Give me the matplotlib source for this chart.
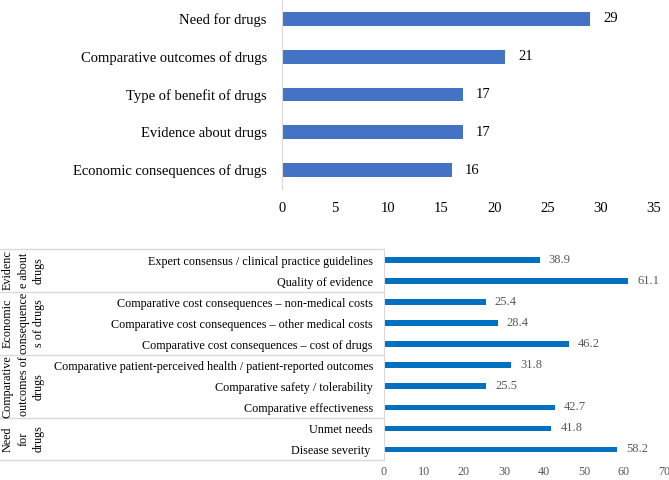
import matplotlib
matplotlib.use("Agg")
import matplotlib.pyplot as plt
from matplotlib.transforms import blended_transform_factory

# top chart: number of items per domain
domains = [
    "Need for drugs",
    "Comparative outcomes of drugs",
    "Type of benefit of drugs",
    "Evidence about drugs",
    "Economic consequences of drugs",
]
domain_counts = [29, 21, 17, 17, 16]

# bottom chart: criteria with percentages
criteria = [
    "Expert consensus / clinical practice guidelines",
    "Quality of evidence",
    "Comparative cost consequences \u2013 non-medical costs",
    "Comparative cost consequences \u2013 other medical costs",
    "Comparative cost consequences \u2013 cost of drugs",
    "Comparative patient-perceived health / patient-reported outcomes",
    "Comparative safety / tolerability",
    "Comparative effectiveness",
    "Unmet needs",
    "Disease severity ",
]
criteria_values = [38.9, 61.1, 25.4, 28.4, 46.2, 31.8, 25.5, 42.7, 41.8, 58.2]
groups = [
    (["Evidenc", "e about", "drugs"], 2),
    (["Economic", "consequence", "s of drugs"], 3),
    (["Comparative", "outcomes of", "drugs"], 3),
    (["Need", "for", "drugs"], 2),
]

plt.rcParams["font.family"] = ["Liberation Serif", "DejaVu Serif"]

fig = plt.figure(figsize=(6.69, 4.8), dpi=100)

# ---- top chart
ax1 = fig.add_axes([282 / 669, 1 - 189 / 480, (654 - 282) / 669, 189 / 480])
y1 = list(range(len(domains)))
ax1.barh(y1, domain_counts, height=0.36, color="#4472C4")
ax1.set_ylim(4.5, -0.5)
ax1.set_xlim(0, 35)
ax1.set_xticks(range(0, 36, 5))
ax1.set_yticks(y1)
ax1.set_yticklabels(domains, fontsize=10.5)
ax1.tick_params(axis="both", length=0, labelsize=10.5)
ax1.tick_params(axis="y", pad=11)
ax1.tick_params(axis="x", pad=9)
for s in ["top", "right", "bottom"]:
    ax1.spines[s].set_visible(False)
ax1.spines["left"].set_color("#d9d9d9")
for y, v in zip(y1, domain_counts):
    ax1.text(v + 1.2, y, str(v), va="center", ha="left", fontsize=10.5)

# ---- bottom chart
top2, bot2 = 249.5, 460
ax2 = fig.add_axes([384 / 669, 1 - bot2 / 480, (664 - 384) / 669, (bot2 - top2) / 480])
y2 = list(range(len(criteria)))
ax2.barh(y2, criteria_values, height=0.27, color="#0070C0")
ax2.set_ylim(9.5, -0.5)
ax2.set_xlim(0, 70)
ax2.set_xticks(range(0, 71, 10))
ax2.set_yticks(y2)
ax2.set_yticklabels(criteria, fontsize=8.75)
ax2.tick_params(axis="both", length=0)
ax2.tick_params(axis="x", labelsize=8.75, labelcolor="#595959", pad=4)
ax2.tick_params(axis="y", pad=8)
for s in ["top", "right", "bottom"]:
    ax2.spines[s].set_visible(False)
ax2.spines["left"].set_color("#d9d9d9")
for y, v in zip(y2, criteria_values):
    ax2.text(v + 2.3, y, f"{v:.1f}", va="center", ha="left", fontsize=9, color="#595959")

# group separators and labels
tr = blended_transform_factory(fig.transFigure, ax2.transData)
cols = [8 / 669, 24 / 669, 39 / 669]
start = -0.5
ax2.plot([0, 384 / 669], [start, start], transform=tr, color="#d9d9d9", lw=1, clip_on=False)
for lines, n in groups:
    end = start + n
    ax2.plot([0, 384 / 669], [end, end], transform=tr, color="#d9d9d9", lw=1, clip_on=False)
    mid = (start + end) / 2
    for x, t in zip(cols, lines):
        ax2.text(x, mid, t, transform=tr, rotation=90, ha="center", va="center", fontsize=8.75)
    start = end

fig.savefig("out.png", dpi=100)
